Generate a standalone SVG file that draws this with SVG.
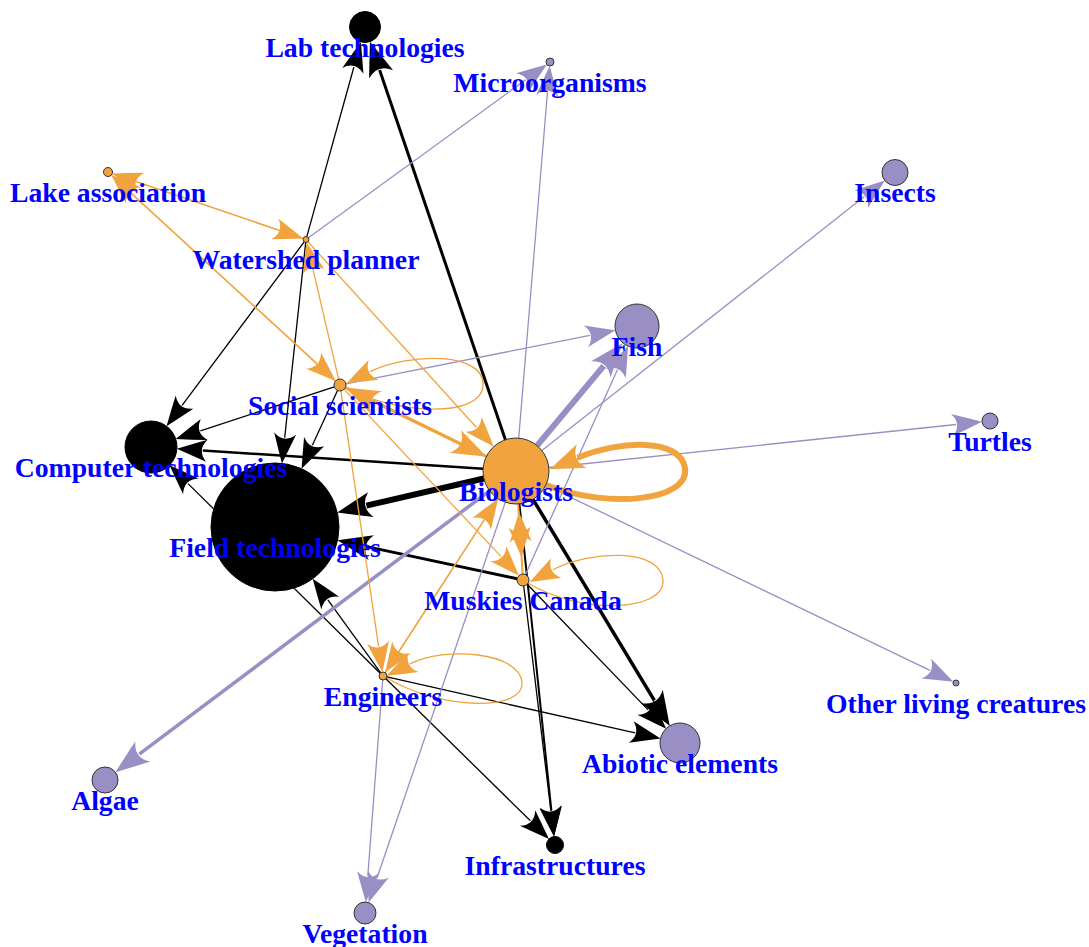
<svg xmlns="http://www.w3.org/2000/svg" width="1089" height="947" viewBox="0 0 1089 947">
<style>
.e{fill:none;stroke-linecap:butt}
.k{stroke:#000}
.o{stroke:#F1A33E}
.p{stroke:#998FC4}
.t1{stroke-width:1.3}
.nb{fill:#000;stroke:#000;stroke-width:1}
.no{fill:#F1A33E;stroke:#333;stroke-width:1}
.np{fill:#998FC4;stroke:#333;stroke-width:1}
.lbl{font-family:"Liberation Serif","Times New Roman",serif;font-weight:bold;font-size:27.7px;fill:#0000FF;text-anchor:middle}
</style>
<defs>
<marker id="ak" markerUnits="userSpaceOnUse" markerWidth="30" markerHeight="22" viewBox="0 -11 30 22" refX="4" refY="0" orient="auto" overflow="visible"><path d="M0,-11 Q14,-6 30,0 Q14,6 0,11 Q10,0 0,-11Z" fill="#000"/></marker>
<marker id="akB" markerUnits="userSpaceOnUse" markerWidth="34.5" markerHeight="25.3" viewBox="0 -11 30 22" refX="4" refY="0" orient="auto" overflow="visible"><path d="M0,-11 Q14,-6 30,0 Q14,6 0,11 Q10,0 0,-11Z" fill="#000"/></marker>
<marker id="ao" markerUnits="userSpaceOnUse" markerWidth="30" markerHeight="22" viewBox="0 -11 30 22" refX="4" refY="0" orient="auto" overflow="visible"><path d="M0,-11 Q14,-6 30,0 Q14,6 0,11 Q10,0 0,-11Z" fill="#F1A33E"/></marker>
<marker id="aoB" markerUnits="userSpaceOnUse" markerWidth="34.5" markerHeight="25.3" viewBox="0 -11 30 22" refX="4" refY="0" orient="auto" overflow="visible"><path d="M0,-11 Q14,-6 30,0 Q14,6 0,11 Q10,0 0,-11Z" fill="#F1A33E"/></marker>
<marker id="ap" markerUnits="userSpaceOnUse" markerWidth="30" markerHeight="22" viewBox="0 -11 30 22" refX="4" refY="0" orient="auto" overflow="visible"><path d="M0,-11 Q14,-6 30,0 Q14,6 0,11 Q10,0 0,-11Z" fill="#998FC4"/></marker>
<marker id="apB" markerUnits="userSpaceOnUse" markerWidth="34.5" markerHeight="25.3" viewBox="0 -11 30 22" refX="4" refY="0" orient="auto" overflow="visible"><path d="M0,-11 Q14,-6 30,0 Q14,6 0,11 Q10,0 0,-11Z" fill="#998FC4"/></marker>
</defs>
<rect width="1089" height="947" fill="#fff"/>
<g id="edges">
<line class="e k t1" x1="306.8" y1="236.6" x2="353.9" y2="67.0" marker-end="url(#ak)"/>
<line class="e k" stroke-width="3" x1="505.4" y1="439.8" x2="379.6" y2="70.0" marker-end="url(#akB)"/>
<line class="e k t1" x1="304.2" y1="241.9" x2="182.1" y2="405.3" marker-end="url(#ak)"/>
<line class="e k t1" x1="305.7" y1="242.5" x2="284.7" y2="437.6" marker-end="url(#ak)"/>
<line class="e k t1" x1="334.3" y1="386.9" x2="200.4" y2="430.8" marker-end="url(#ak)"/>
<line class="e k t1" x1="337.5" y1="390.5" x2="312.4" y2="445.2" marker-end="url(#ak)"/>
<line class="e k" stroke-width="2.5" x1="483.1" y1="468.8" x2="202.8" y2="450.4" marker-end="url(#ak)"/>
<line class="e k" stroke-width="6" x1="483.9" y1="478.5" x2="366.4" y2="505.7" marker-end="url(#akB)"/>
<line class="e k" stroke-width="3" x1="517.1" y1="578.7" x2="366.8" y2="546.6" marker-end="url(#akB)"/>
<line class="e k t1" x1="380.2" y1="673.2" x2="188.0" y2="483.6" marker-end="url(#ak)"/>
<line class="e k t1" x1="380.7" y1="672.8" x2="327.9" y2="599.9" marker-end="url(#ak)"/>
<line class="e k t1" x1="386.9" y1="676.9" x2="635.1" y2="732.9" marker-end="url(#ak)"/>
<line class="e k t1" x1="385.9" y1="678.8" x2="530.4" y2="820.8" marker-end="url(#ak)"/>
<line class="e k t1" x1="527.2" y1="584.3" x2="648.1" y2="709.9" marker-end="url(#ak)"/>
<line class="e k" stroke-width="3.5" x1="533.0" y1="499.3" x2="654.3" y2="700.3" marker-end="url(#akB)"/>
<line class="e k" stroke-width="2" x1="519.4" y1="503.8" x2="551.4" y2="810.6" marker-end="url(#ak)"/>
<line class="e k t1" x1="523.7" y1="586.0" x2="550.9" y2="810.8" marker-end="url(#ak)"/>
<line class="e p t1" x1="308.4" y1="237.7" x2="525.8" y2="79.7" marker-end="url(#ap)"/>
<line class="e p t1" x1="518.7" y1="438.1" x2="547.5" y2="91.9" marker-end="url(#ap)"/>
<line class="e p t1" x1="541.9" y1="450.6" x2="864.4" y2="196.6" marker-end="url(#ap)"/>
<line class="e p t1" x1="345.9" y1="383.8" x2="589.9" y2="335.4" marker-end="url(#ap)"/>
<line class="e p" stroke-width="6" x1="537.1" y1="445.7" x2="603.7" y2="365.9" marker-end="url(#apB)"/>
<line class="e p t1" x1="525.5" y1="574.5" x2="617.4" y2="369.8" marker-end="url(#ap)"/>
<line class="e p t1" x1="548.8" y1="467.5" x2="956.1" y2="424.5" marker-end="url(#ap)"/>
<line class="e p t1" x1="545.7" y1="485.3" x2="929.9" y2="670.4" marker-end="url(#ap)"/>
<line class="e p" stroke-width="3.5" x1="489.6" y1="490.8" x2="139.3" y2="754.2" marker-end="url(#apB)"/>
<line class="e p t1" x1="505.3" y1="502.2" x2="377.0" y2="878.0" marker-end="url(#ap)"/>
<line class="e p t1" x1="382.7" y1="680.0" x2="367.8" y2="876.1" marker-end="url(#ap)"/>
<line class="e o t1" x1="112.3" y1="173.5" x2="278.6" y2="230.1" marker-end="url(#ao)"/>
<line class="e o t1" x1="303.2" y1="238.5" x2="136.9" y2="181.9" marker-end="url(#ao)"/>
<line class="e o t1" x1="111.3" y1="175.0" x2="316.5" y2="363.3" marker-end="url(#ao)"/>
<line class="e o t1" x1="335.6" y1="380.9" x2="130.4" y2="192.6" marker-end="url(#ao)"/>
<line class="e o t1" x1="338.6" y1="379.2" x2="312.6" y2="267.7" marker-end="url(#ao)"/>
<line class="e o t1" x1="308.0" y1="241.7" x2="476.3" y2="427.3" marker-end="url(#ao)"/>
<line class="e o" stroke-width="3" x1="345.4" y1="387.6" x2="459.5" y2="443.4" marker-end="url(#aoB)"/>
<line class="e o" stroke-width="3" x1="486.4" y1="456.5" x2="372.3" y2="400.7" marker-end="url(#aoB)"/>
<line class="e o t1" x1="344.1" y1="389.4" x2="501.1" y2="556.6" marker-end="url(#ao)"/>
<line class="e o t1" x1="340.9" y1="390.9" x2="378.6" y2="646.3" marker-end="url(#ao)"/>
<line class="e o" stroke-width="2" x1="518.1" y1="503.9" x2="519.8" y2="531.1" marker-end="url(#ao)"/>
<line class="e o" stroke-width="2" x1="522.6" y1="574.0" x2="520.5" y2="538.0" marker-end="url(#ao)"/>
<line class="e o t1" x1="498.0" y1="498.7" x2="399.3" y2="650.8" marker-end="url(#ao)"/>
<line class="e o t1" x1="385.2" y1="672.6" x2="483.9" y2="520.5" marker-end="url(#ao)"/>
<path class="e o t1" d="M345,388 C400,415 480,418 483,386 C486,352 410,352 369.9,371.7" marker-end="url(#ao)"/>
<path class="e o" stroke-width="6" d="M546,485 C610,510 690,500 685,468 C680,438 620,440 577.5,457.8" marker-end="url(#aoB)"/>
<path class="e o t1" d="M528,583 C580,615 665,612 663,580 C661,548 590,550 552.7,569.8" marker-end="url(#ao)"/>
<path class="e o t1" d="M387,678 C440,710 525,712 522,682 C519,652 445,646 409.9,663.9" marker-end="url(#ao)"/>
</g>
<g id="node-field"><circle class="nb" cx="275" cy="527" r="64"/><text class="lbl" x="275" y="556.5">Field technologies</text></g>
<g id="node-lab"><circle class="nb" cx="365" cy="27" r="15.5"/><text class="lbl" x="365" y="56.5">Lab technologies</text></g>
<g id="node-micro"><circle class="np" cx="550" cy="62" r="4"/><text class="lbl" x="550" y="91.5">Microorganisms</text></g>
<g id="node-lake"><circle class="no" cx="108" cy="172" r="4.5"/><text class="lbl" x="108" y="201.5">Lake association</text></g>
<g id="node-watershed"><circle class="no" cx="306" cy="239.5" r="3"/><text class="lbl" x="306" y="269">Watershed planner</text></g>
<g id="node-insects"><circle class="np" cx="895" cy="172.5" r="13"/><text class="lbl" x="895" y="202">Insects</text></g>
<g id="node-fish"><circle class="np" cx="637" cy="326" r="22"/><text class="lbl" x="637" y="355.5">Fish</text></g>
<g id="node-social"><circle class="no" cx="340" cy="385" r="6"/><text class="lbl" x="340" y="414.5">Social scientists</text></g>
<g id="node-turtles"><circle class="np" cx="990" cy="421" r="8"/><text class="lbl" x="990" y="450.5">Turtles</text></g>
<g id="node-computer"><circle class="nb" cx="151" cy="447" r="26"/><text class="lbl" x="151" y="476.5">Computer technologies</text></g>
<g id="node-biologists"><circle class="no" cx="516" cy="471" r="33"/><text class="lbl" x="516" y="500.5">Biologists</text></g>
<g id="node-muskies"><circle class="no" cx="523" cy="580" r="6"/><text class="lbl" x="523" y="609.5">Muskies Canada</text></g>
<g id="node-engineers"><circle class="no" cx="383" cy="676" r="4"/><text class="lbl" x="383" y="705.5">Engineers</text></g>
<g id="node-other"><circle class="np" cx="956" cy="683" r="3"/><text class="lbl" x="956" y="712.5">Other living creatures</text></g>
<g id="node-abiotic"><circle class="np" cx="680" cy="743" r="20"/><text class="lbl" x="680" y="772.5">Abiotic elements</text></g>
<g id="node-algae"><circle class="np" cx="105" cy="780" r="13"/><text class="lbl" x="105" y="809.5">Algae</text></g>
<g id="node-infra"><circle class="nb" cx="555" cy="845" r="8.5"/><text class="lbl" x="555" y="874.5">Infrastructures</text></g>
<g id="node-vegetation"><circle class="np" cx="365" cy="913" r="11"/><text class="lbl" x="365" y="942.5">Vegetation</text></g>
</svg>
